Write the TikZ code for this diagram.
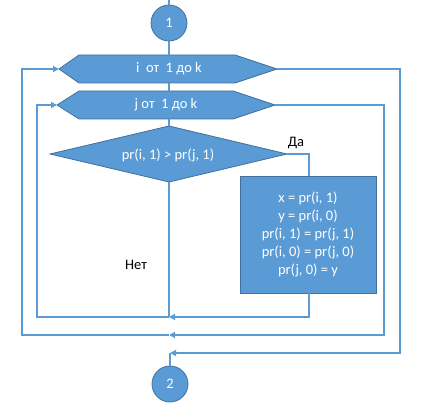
\documentclass[tikz,border=0pt]{standalone}
\usepackage{fontspec}
\setmainfont{Carlito}
\usetikzlibrary{arrows.meta,shapes.geometric}
\definecolor{fillblue}{HTML}{5B9BD5}
\definecolor{edgeblue}{HTML}{41719C}
\definecolor{lineblue}{HTML}{5B9BD5}
\tikzset{
  shapefill/.style={fill=fillblue,draw=edgeblue,line width=0.8pt},
  conn/.style={draw=lineblue,line width=1.2pt},
  arr/.style={conn,-{Triangle[length=6pt,width=6pt]}},
  intext/.style={text=white,font=\fontsize{14.5}{18}\selectfont,inner sep=0pt,align=center},
  lbl/.style={text=black,font=\fontsize{14.5}{18}\selectfont,inner sep=0pt},
  conncirc/.style={circle,shapefill,minimum size=36pt,inner sep=0pt,text=white,font=\fontsize{14.5}{18}\selectfont}
}
\begin{document}
\begin{tikzpicture}[x=1pt,y=-1pt]
\useasboundingbox (0,0) rectangle (423,409);
% circle 1
\coordinate (top) at (169,0);
\node[conncirc] (c1) at (169,23) {1};
% hexagon i
\coordinate (iL) at (59,69);
\coordinate (iTL) at (79,55);
\coordinate (iTR) at (235,55);
\coordinate (iR) at (277,69);
\coordinate (iBR) at (235,83);
\coordinate (iBL) at (79,83);
\coordinate (iT) at (169,55);
\coordinate (iB) at (169,83);
\fill[shapefill] (iL) -- (iTL) -- (iTR) -- (iR) -- (iBR) -- (iBL) -- cycle;
\node[intext] (ti) at (169,69) {i\ \ от\ \ 1 до k};
% hexagon j
\coordinate (jL) at (57,105);
\coordinate (jTL) at (79,91);
\coordinate (jTR) at (233,91);
\coordinate (jR) at (275,105);
\coordinate (jBR) at (233,119);
\coordinate (jBL) at (79,119);
\coordinate (jT) at (169,91);
\coordinate (jB) at (169,119);
\fill[shapefill] (jL) -- (jTL) -- (jTR) -- (jR) -- (jBR) -- (jBL) -- cycle;
\node[intext] (tj) at (166,105) {j от\ \ 1 до k};
% diamond
\coordinate (dL) at (50,154);
\coordinate (dT) at (169,126);
\coordinate (dR) at (287,154);
\coordinate (dB) at (169,182);
\fill[shapefill] (dL) -- (dT) -- (dR) -- (dB) -- cycle;
\node[intext] (td) at (168,155) {pr(i, 1) > pr(j, 1)};
% process box
\node[shapefill,minimum width=136pt,minimum height=117pt,inner sep=0pt,
      text=white,font=\fontsize{14.5}{18.2}\selectfont,align=center] (box) at (308,234.5)
  {x = pr(i, 1)\\ y = pr(i, 0)\\ pr(i, 1) = pr(j, 1)\\ pr(i, 0) = pr(j, 0)\\ pr(j, 0) = y};
% circle 2
\node[conncirc] (c2) at (170,384) {2};
% labels
\node[lbl] (da) at (296,143) {Да};
\node[lbl] (net) at (136,265) {Нет};
% junction coordinates
\coordinate (m1) at (169,317);
\coordinate (m2) at (169,335);
\coordinate (m3) at (170,353);
% connectors
\draw[conn] (top) -- (c1.north);
\draw[conn] (c1.south) -- (iT);
\draw[conn] (iB) -- (jT);
\draw[conn] (jB) -- (dT);
\draw[conn] (dR) -- (309,154) -- (box.north -| 309,0);
\draw[arr] (box.south -| 309,0) -- (309,317) -- (m1);
\draw[conn] (dB) -- (m1);
\draw[arr] (m1) -- (37,317) -- (37,105) -- (jL);
\draw[arr] (jR) -- (384,105) -- (384,335) -- (m2);
\draw[arr] (m2) -- (22,335) -- (22,69) -- (iL);
\draw[arr] (iR) -- (400,69) -- (400,353) -- (m3);
\draw[conn] (c2.north) -- (m3);
\end{tikzpicture}
\end{document}
